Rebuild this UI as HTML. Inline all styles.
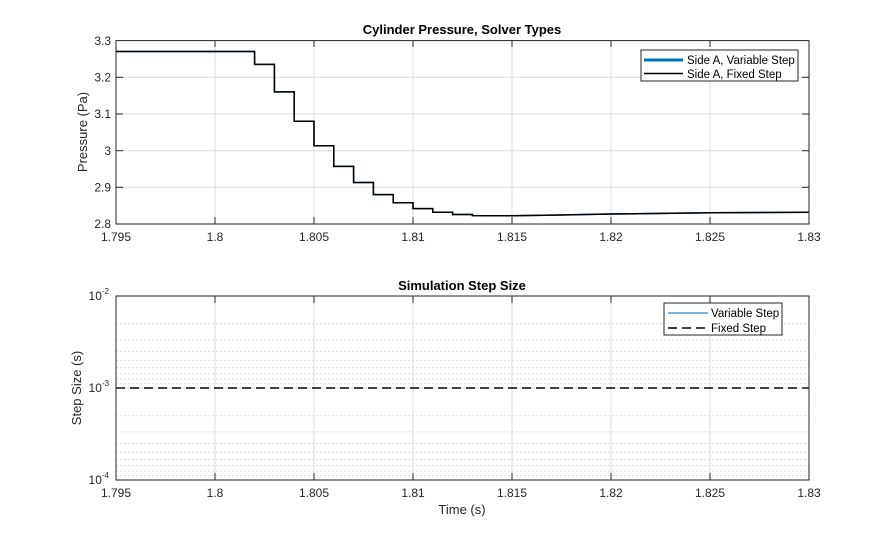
<!DOCTYPE html>
<html><head><meta charset="utf-8"><style>
html,body{margin:0;padding:0;background:#fff;}
svg{display:block;font-family:"Liberation Sans",Arial,sans-serif;}
</style></head><body>
<svg width="895" height="540" viewBox="0 0 895 540" xmlns="http://www.w3.org/2000/svg">
<rect width="895" height="540" fill="#fff"/>
<g stroke="#dcdcdc" stroke-width="1">
<line x1="215" y1="40.6" x2="215" y2="224"/><line x1="314" y1="40.6" x2="314" y2="224"/><line x1="413" y1="40.6" x2="413" y2="224"/><line x1="512" y1="40.6" x2="512" y2="224"/><line x1="611" y1="40.6" x2="611" y2="224"/><line x1="710" y1="40.6" x2="710" y2="224"/>
<line x1="116" y1="77.3" x2="809" y2="77.3"/><line x1="116" y1="114" x2="809" y2="114"/><line x1="116" y1="150.7" x2="809" y2="150.7"/><line x1="116" y1="187.3" x2="809" y2="187.3"/>
</g>
<polyline fill="none" stroke="#0072BD" stroke-width="1.5" points="116,51.5 254.6,51.5 254.6,64.4 274.4,64.4 274.4,91.9 294.2,91.9 294.2,121.2 314,121.2 314,145.8 333.8,145.8 333.8,166.4 353.6,166.4 353.6,182.5 373.4,182.5 373.4,194.6 393.2,194.6 393.2,202.7 413,202.7 413,208.6 432.8,208.6 432.8,212.3 452.6,212.3 452.6,214.5 472.4,214.5 472.4,215.6 512,215.8 560,215 611,214 710,212.8 809,212.3"/>
<polyline fill="none" stroke="#000" stroke-width="1.5" points="116,51.5 254.6,51.5 254.6,64.4 274.4,64.4 274.4,91.9 294.2,91.9 294.2,121.2 314,121.2 314,145.8 333.8,145.8 333.8,166.4 353.6,166.4 353.6,182.5 373.4,182.5 373.4,194.6 393.2,194.6 393.2,202.7 413,202.7 413,208.6 432.8,208.6 432.8,212.3 452.6,212.3 452.6,214.5 472.4,214.5 472.4,215.6 512,215.8 560,215 611,214 710,212.8 809,212.3"/>
<rect x="116" y="40.6" width="693" height="183.4" fill="none" stroke="#262626" stroke-width="1"/>
<g stroke="#262626"><line x1="215" y1="224" x2="215" y2="217"/><line x1="314" y1="224" x2="314" y2="217"/><line x1="413" y1="224" x2="413" y2="217"/><line x1="512" y1="224" x2="512" y2="217"/><line x1="611" y1="224" x2="611" y2="217"/><line x1="710" y1="224" x2="710" y2="217"/>
<line x1="215" y1="40.6" x2="215" y2="47"/><line x1="314" y1="40.6" x2="314" y2="47"/><line x1="413" y1="40.6" x2="413" y2="47"/><line x1="512" y1="40.6" x2="512" y2="47"/><line x1="611" y1="40.6" x2="611" y2="47"/><line x1="710" y1="40.6" x2="710" y2="47"/>
<line x1="116" y1="77.3" x2="123" y2="77.3"/><line x1="116" y1="114" x2="123" y2="114"/><line x1="116" y1="150.7" x2="123" y2="150.7"/><line x1="116" y1="187.3" x2="123" y2="187.3"/>
<line x1="809" y1="77.3" x2="802" y2="77.3"/><line x1="809" y1="114" x2="802" y2="114"/><line x1="809" y1="150.7" x2="802" y2="150.7"/><line x1="809" y1="187.3" x2="802" y2="187.3"/></g>
<g font-size="12" fill="#262626" text-anchor="end">
<text x="111" y="45">3.3</text><text x="111" y="81.5">3.2</text><text x="111" y="118">3.1</text><text x="111" y="155">3</text><text x="111" y="191.5">2.9</text><text x="111" y="228">2.8</text></g>
<g font-size="12" fill="#262626" text-anchor="middle">
<text x="116" y="241">1.795</text><text x="215" y="241">1.8</text><text x="314" y="241">1.805</text><text x="413" y="241">1.81</text><text x="512" y="241">1.815</text><text x="611" y="241">1.82</text><text x="710" y="241">1.825</text><text x="809" y="241">1.83</text></g>
<text x="462" y="34" font-size="13" font-weight="bold" text-anchor="middle" fill="#000">Cylinder Pressure, Solver Types</text>
<text transform="translate(87,132) rotate(-90)" font-size="13" text-anchor="middle" fill="#262626">Pressure (Pa)</text>
<rect x="641" y="50" width="157" height="31" fill="#fff" stroke="#262626"/>
<line x1="644" y1="60" x2="683" y2="60" stroke="#0072BD" stroke-width="3"/>
<line x1="644" y1="73.5" x2="683" y2="73.5" stroke="#000" stroke-width="1.5"/>
<text x="687" y="64" font-size="11.5" fill="#000">Side A, Variable Step</text>
<text x="687" y="78" font-size="11.5" fill="#000">Side A, Fixed Step</text>

<g stroke="#dcdcdc" stroke-width="1">
<line x1="215" y1="296" x2="215" y2="480"/><line x1="314" y1="296" x2="314" y2="480"/><line x1="413" y1="296" x2="413" y2="480"/><line x1="512" y1="296" x2="512" y2="480"/><line x1="611" y1="296" x2="611" y2="480"/><line x1="710" y1="296" x2="710" y2="480"/>
<line x1="116" y1="388" x2="809" y2="388"/>
</g>
<g stroke="#dadada" stroke-width="1" stroke-dasharray="2,2">
<line x1="116" y1="323.7" x2="809" y2="323.7"/><line x1="116" y1="339.9" x2="809" y2="339.9"/><line x1="116" y1="351.4" x2="809" y2="351.4"/><line x1="116" y1="360.3" x2="809" y2="360.3"/><line x1="116" y1="367.6" x2="809" y2="367.6"/><line x1="116" y1="373.8" x2="809" y2="373.8"/><line x1="116" y1="379.1" x2="809" y2="379.1"/><line x1="116" y1="383.8" x2="809" y2="383.8"/>
<line x1="116" y1="415.7" x2="809" y2="415.7"/><line x1="116" y1="431.9" x2="809" y2="431.9"/><line x1="116" y1="443.4" x2="809" y2="443.4"/><line x1="116" y1="452.3" x2="809" y2="452.3"/><line x1="116" y1="459.6" x2="809" y2="459.6"/><line x1="116" y1="465.8" x2="809" y2="465.8"/><line x1="116" y1="471.1" x2="809" y2="471.1"/><line x1="116" y1="475.8" x2="809" y2="475.8"/>
</g>
<line x1="116" y1="388" x2="809" y2="388" stroke="#000" stroke-width="1.5" stroke-dasharray="9,5"/>
<rect x="116" y="296" width="693" height="184" fill="none" stroke="#262626" stroke-width="1"/>
<g stroke="#262626"><line x1="215" y1="480" x2="215" y2="473"/><line x1="314" y1="480" x2="314" y2="473"/><line x1="413" y1="480" x2="413" y2="473"/><line x1="512" y1="480" x2="512" y2="473"/><line x1="611" y1="480" x2="611" y2="473"/><line x1="710" y1="480" x2="710" y2="473"/>
<line x1="215" y1="296" x2="215" y2="303"/><line x1="314" y1="296" x2="314" y2="303"/><line x1="413" y1="296" x2="413" y2="303"/><line x1="512" y1="296" x2="512" y2="303"/><line x1="611" y1="296" x2="611" y2="303"/><line x1="710" y1="296" x2="710" y2="303"/>
<line x1="116" y1="388" x2="123" y2="388"/><line x1="809" y1="388" x2="802" y2="388"/></g>
<g font-size="12" fill="#262626" text-anchor="end">
<text x="109" y="300">10<tspan font-size="8" dy="-6">-2</tspan></text>
<text x="109" y="392">10<tspan font-size="8" dy="-6">-3</tspan></text>
<text x="109" y="484">10<tspan font-size="8" dy="-6">-4</tspan></text></g>
<g font-size="12" fill="#262626" text-anchor="middle">
<text x="116" y="497">1.795</text><text x="215" y="497">1.8</text><text x="314" y="497">1.805</text><text x="413" y="497">1.81</text><text x="512" y="497">1.815</text><text x="611" y="497">1.82</text><text x="710" y="497">1.825</text><text x="809" y="497">1.83</text></g>
<text x="462" y="514" font-size="13" text-anchor="middle" fill="#262626">Time (s)</text>
<text x="462" y="290" font-size="13" font-weight="bold" text-anchor="middle" fill="#000">Simulation Step Size</text>
<text transform="translate(81,388) rotate(-90)" font-size="13" text-anchor="middle" fill="#262626">Step Size (s)</text>
<rect x="664" y="303" width="118" height="32" fill="#fff" stroke="#262626"/>
<line x1="668" y1="313" x2="708" y2="313" stroke="#4a9ad4" stroke-width="1.5"/>
<line x1="668" y1="328" x2="708" y2="328" stroke="#000" stroke-width="1.5" stroke-dasharray="9,5"/>
<text x="711" y="317" font-size="11.5" fill="#000">Variable Step</text>
<text x="711" y="332" font-size="11.5" fill="#000">Fixed Step</text>
</svg>
</body></html>
